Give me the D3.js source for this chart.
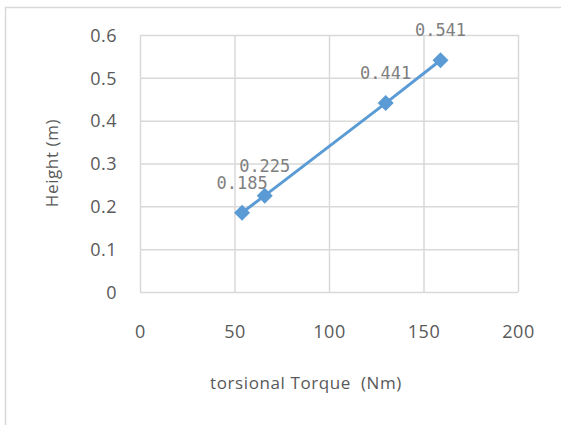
<!DOCTYPE html>
<html>
<head>
<meta charset="utf-8">
<script src="https://cdn.jsdelivr.net/npm/d3@7"></script>
<style>
  body { margin: 0; background: #fff; }
  .grid line { stroke: #d9d9d9; stroke-width: 1.5; }
  .tick text { fill: #595959; font-family: "Open Sans", "Noto Sans", sans-serif; font-size: 18px; letter-spacing: 0.5px; }
  .title { fill: #595959; font-family: "Open Sans", "Noto Sans", sans-serif; font-size: 17px; letter-spacing: 0.6px; white-space: pre; }
</style>
</head>
<body>
<div id="chart"></div>
<script>
// torsional torque (Nm) vs height (m)
const torque = [54, 66, 130, 159];
const height = [0.185, 0.225, 0.441, 0.541];
const xTicks = [0, 50, 100, 150, 200];
const yTicks = [0, 0.1, 0.2, 0.3, 0.4, 0.5, 0.6];

const W = 561, H = 425;
const margin = {top: 35, right: 43, bottom: 133, left: 140};
const width = W - margin.left - margin.right;
const height2 = H - margin.top - margin.bottom;

const svg = d3.select("#chart").append("svg")
    .attr("width", W)
    .attr("height", H);

// outer chart frame (cut off on right and bottom)
svg.append("rect")
    .attr("x", 5.5).attr("y", 7.5)
    .attr("width", W + 10).attr("height", H + 10)
    .attr("fill", "none")
    .attr("stroke", "#d9d9d9")
    .attr("stroke-width", 1.5);

const x = d3.scaleLinear().domain([0, 200]).range([0, width]);
const y = d3.scaleLinear().domain([0, 0.6]).range([height2, 0]);

const plot = svg.append("g")
    .attr("transform", `translate(${margin.left},${margin.top})`);

// gridlines
plot.append("g")
    .attr("class", "grid")
    .call(d3.axisLeft(y).tickValues(yTicks).tickSize(-width).tickFormat(""))
    .call(g => g.select(".domain").remove());

plot.append("g")
    .attr("class", "grid")
    .attr("transform", `translate(0,${height2})`)
    .call(d3.axisBottom(x).tickValues(xTicks).tickSize(-height2).tickFormat(""))
    .call(g => g.select(".domain").remove());

// tick labels
plot.append("g")
    .call(d3.axisLeft(y).tickValues(yTicks).tickSize(0).tickPadding(23)
        .tickFormat(d => d === 0 ? "0" : d3.format(".1f")(d)))
    .call(g => g.select(".domain").remove())
    .selectAll("text").attr("dy", "0.35em");

plot.append("g")
    .attr("transform", `translate(0,${height2})`)
    .call(d3.axisBottom(x).tickValues(xTicks).tickSize(0).tickPadding(0))
    .call(g => g.select(".domain").remove())
    .selectAll("text").attr("y", 40).attr("dy", "0.35em");

// series line
const line = d3.line()
    .x((d, i) => x(torque[i]))
    .y(d => y(d));

plot.append("path")
    .datum(height)
    .attr("fill", "none")
    .attr("stroke", "#5b9bd5")
    .attr("stroke-width", 3)
    .attr("d", line);

// diamond markers
plot.selectAll(".marker")
    .data(height)
    .enter().append("path")
    .attr("class", "marker")
    .attr("transform", (d, i) => `translate(${x(torque[i])},${y(d)})`)
    .attr("d", "M0,-8L8,0L0,8L-8,0Z")
    .attr("fill", "#5b9bd5");

// data labels
plot.selectAll(".dlabel")
    .data(height)
    .enter().append("text")
    .attr("class", "dlabel")
    .attr("x", (d, i) => x(torque[i]))
    .attr("y", d => y(d) - 30)
    .attr("dy", "0.35em")
    .attr("text-anchor", "middle")
    .attr("fill", "#7f7f7f")
    .style("font-family", "'DejaVu Sans Mono', monospace")
    .style("font-size", "17px")
    .text(d => d3.format(".3f")(d));

// axis titles
svg.append("text")
    .attr("class", "title")
    .attr("x", 306)
    .attr("y", 383)
    .attr("dy", "0.35em")
    .attr("text-anchor", "middle")
    .text("torsional Torque  (Nm)");

svg.append("text")
    .attr("class", "title")
    .attr("transform", "translate(52,163) rotate(-90)")
    .attr("dy", "0.35em")
    .attr("text-anchor", "middle")
    .text("Height (m)");
</script>
</body>
</html>
